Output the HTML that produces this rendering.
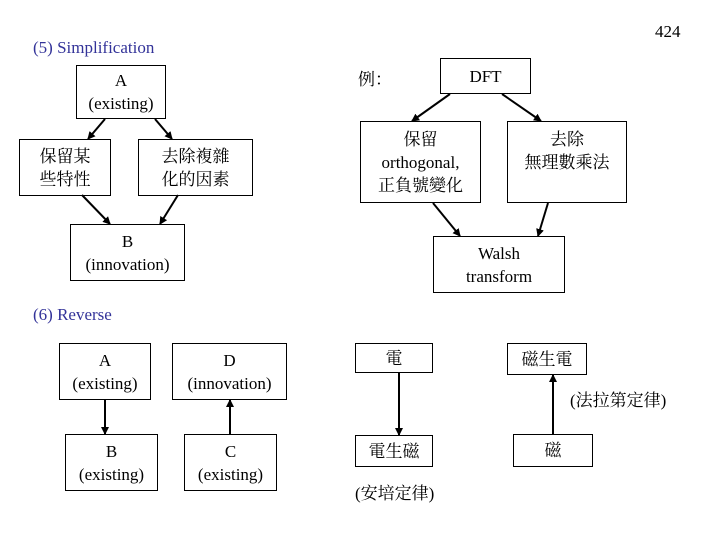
<!DOCTYPE html>
<html><head><meta charset="utf-8"><style>
body{margin:0;width:720px;height:540px;background:#fff;position:relative;overflow:hidden;font-family:"Liberation Serif","Noto Serif CJK SC","Noto Sans CJK TC",serif;color:#000}
.b{position:absolute;border:1.5px solid #000;box-sizing:border-box;display:flex;align-items:center;justify-content:center;text-align:center;font-size:17px;line-height:23px}
.t{position:absolute;font-size:17px;white-space:nowrap}
.bl{color:#333399}
svg{position:absolute;left:0;top:0}
</style></head><body>
<div class="t" style="left:655px;top:22px">424</div>
<div class="t bl" style="left:33px;top:38px">(5) Simplification</div>
<div class="t" style="left:358px;top:65px">例：</div>
<div class="b" style="left:76px;top:65px;width:90px;height:54px">A<br>(existing)</div>
<div class="b" style="left:19px;top:139px;width:92px;height:57px">保留某<br>些特性</div>
<div class="b" style="left:138px;top:139px;width:115px;height:57px">去除複雜<br>化的因素</div>
<div class="b" style="left:70px;top:224px;width:115px;height:57px">B<br>(innovation)</div>
<div class="b" style="left:440px;top:58px;width:91px;height:36px">DFT</div>
<div class="b" style="left:360px;top:121px;width:121px;height:82px">保留<br>orthogonal,<br>正負號變化</div>
<div class="b" style="left:507px;top:121px;width:120px;height:82px;align-items:flex-start;padding-top:6px">去除<br>無理數乘法</div>
<div class="b" style="left:433px;top:236px;width:132px;height:57px">Walsh<br>transform</div>
<div class="t bl" style="left:33px;top:305px">(6) Reverse</div>
<div class="b" style="left:59px;top:343px;width:92px;height:57px">A<br>(existing)</div>
<div class="b" style="left:65px;top:434px;width:93px;height:57px">B<br>(existing)</div>
<div class="b" style="left:172px;top:343px;width:115px;height:57px">D<br>(innovation)</div>
<div class="b" style="left:184px;top:434px;width:93px;height:57px">C<br>(existing)</div>
<div class="b" style="left:355px;top:343px;width:78px;height:30px">電</div>
<div class="b" style="left:355px;top:435px;width:78px;height:32px">電生磁</div>
<div class="b" style="left:507px;top:343px;width:80px;height:32px">磁生電</div>
<div class="b" style="left:513px;top:434px;width:80px;height:33px">磁</div>
<div class="t" style="left:355px;top:479px">(安培定律)</div>
<div class="t" style="left:570px;top:386px">(法拉第定律)</div>
<svg width="720" height="540"><defs><marker id="a" markerWidth="8" markerHeight="8" refX="7" refY="4" orient="auto" markerUnits="userSpaceOnUse"><path d="M0,0L8,4L0,8z" fill="#000"/></marker></defs>
<g stroke="#000" stroke-width="2" marker-end="url(#a)">
<line x1="105" y1="119" x2="88" y2="139"/>
<line x1="155" y1="119" x2="172" y2="139"/>
<line x1="82" y1="195" x2="110" y2="224"/>
<line x1="178" y1="195" x2="160" y2="224"/>
<line x1="450" y1="94" x2="412" y2="121"/>
<line x1="502" y1="94" x2="541" y2="121"/>
<line x1="433" y1="203" x2="460" y2="236"/>
<line x1="548" y1="203" x2="538" y2="236"/>
<line x1="105" y1="400" x2="105" y2="434"/>
<line x1="230" y1="434" x2="230" y2="400"/>
<line x1="399" y1="373" x2="399" y2="435"/>
<line x1="553" y1="434" x2="553" y2="375"/>
</g></svg>
</body></html>
